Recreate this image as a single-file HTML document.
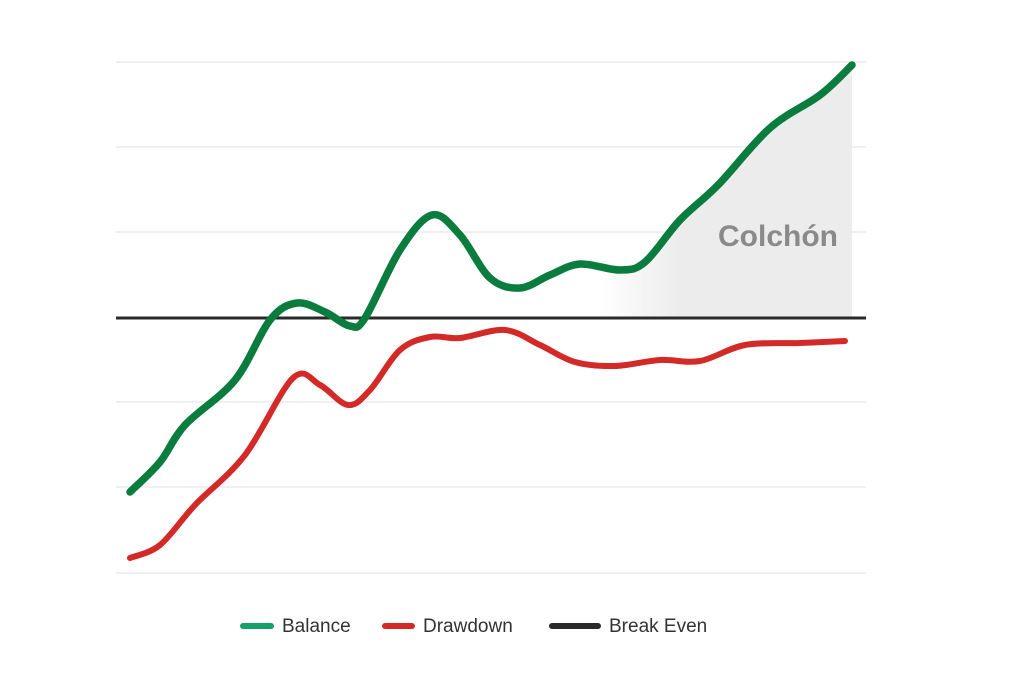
<!DOCTYPE html>
<html><head><meta charset="utf-8"><style>
body{margin:0;background:#fff;width:1024px;height:683px;overflow:hidden;font-family:"Liberation Sans",sans-serif}
</style></head><body>
<svg id="s" width="1024" height="683" xmlns="http://www.w3.org/2000/svg">
<defs><linearGradient id="g" x1="600" x2="680" y1="0" y2="0" gradientUnits="userSpaceOnUse">
<stop offset="0" stop-color="#ececec" stop-opacity="0"/><stop offset="1" stop-color="#ececec"/></linearGradient></defs>
<g stroke="#e6e6e6" stroke-width="1.2">
<line x1="116" x2="866" y1="62" y2="62"/><line x1="116" x2="866" y1="147" y2="147"/>
<line x1="116" x2="866" y1="232" y2="232"/><line x1="116" x2="866" y1="402" y2="402"/>
<line x1="116" x2="866" y1="487" y2="487"/><line x1="116" x2="866" y1="573" y2="573"/>
</g>
<path id="fill" fill="url(#g)"/>
<text x="778" y="246" font-size="30" font-weight="bold" fill="#8a8a8a" text-anchor="middle" font-family="Liberation Sans,sans-serif">Colchón</text>
<line x1="116" x2="866" y1="318" y2="318" stroke="#2a2a2a" stroke-width="3"/>
<path id="red" fill="none" stroke="#d42a27" stroke-width="6" stroke-linecap="round"/>
<path id="green" fill="none" stroke="#0a7d3e" stroke-width="7.5" stroke-linecap="round"/>
<g font-size="19" fill="#333">
<line x1="243" x2="271" y1="626" y2="626" stroke="#16a06a" stroke-width="6" stroke-linecap="round"/>
<text x="282" y="632">Balance</text>
<line x1="385" x2="412" y1="626" y2="626" stroke="#d42a27" stroke-width="6" stroke-linecap="round"/>
<text x="423" y="632">Drawdown</text>
<line x1="552" x2="598" y1="626" y2="626" stroke="#2a2a2a" stroke-width="6" stroke-linecap="round"/>
<text x="609" y="632">Break Even</text>
</g>
</svg>
<script>
function cr(p){let d="M"+p[0][0]+","+p[0][1];for(let i=0;i<p.length-1;i++){const a=p[i-1]||p[i],b=p[i],c=p[i+1],e=p[i+2]||c;
d+=" C"+(b[0]+(c[0]-a[0])/6)+","+(b[1]+(c[1]-a[1])/6)+" "+(c[0]-(e[0]-b[0])/6)+","+(c[1]-(e[1]-b[1])/6)+" "+c[0]+","+c[1];}return d;}
const G=[[130,492],[160,462],[185,425],[235,380],[270,320],[297,303],[325,312],[350,326],[365,318],[400,250],[432,215],[460,235],[490,278],[520,288],[550,275],[580,264],[620,270],[645,262],[680,220],[718,185],[770,128],[820,95],[852,65]];
const R=[[130,558],[160,545],[195,505],[245,455],[293,378],[320,385],[348,405],[370,390],[400,350],[430,337],[460,338],[505,330],[540,345],[575,362],[615,366],[660,360],[700,361],[745,345],[800,343],[845,341]];
document.getElementById("green").setAttribute("d",cr(G));
document.getElementById("red").setAttribute("d",cr(R));
const F=G.slice(15);
document.getElementById("fill").setAttribute("d",cr(F)+" L852,318 L580,318 Z");
</script>
</body></html>
